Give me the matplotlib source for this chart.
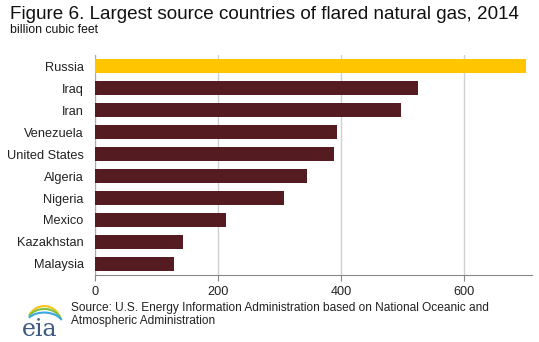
import matplotlib
matplotlib.use('Agg')

import numpy as np
import matplotlib.pyplot as plt
from matplotlib.patches import Arc

plt.rcParams['font.family'] = ['Liberation Sans', 'DejaVu Sans']

countries = ['Russia', 'Iraq', 'Iran', 'Venezuela', 'United States',
             'Algeria', 'Nigeria', 'Mexico', 'Kazakhstan', 'Malaysia']
flared = [700, 525, 497, 393, 388, 345, 307, 213, 143, 129]
ticks = [0, 200, 400, 600]

fig = plt.figure(figsize=(5.39, 3.42), dpi=100)
ax = fig.add_axes([0.1757, 0.196, 0.811, 0.643])

ypos = np.arange(len(countries))[::-1]
colors = ['#ffc600'] + ['#541b21'] * (len(countries) - 1)
ax.barh(ypos, flared, height=0.62, color=colors, zorder=3)

ax.set_xlim(0, 710)
ax.set_ylim(-0.5, len(countries) - 0.5)
ax.set_yticks(ypos)
ax.set_yticklabels(countries, fontsize=9.2, color='#222222')
ax.set_xticks(ticks)
ax.set_xticklabels([str(t) for t in ticks], fontsize=9.2, color='#222222')
ax.tick_params(axis='y', length=0, pad=8)
ax.tick_params(axis='x', length=4, color='#888888', pad=4)
ax.xaxis.grid(True, color='#d0d0d0', linewidth=1, zorder=0)

for s in ['top', 'right']:
    ax.spines[s].set_visible(False)
ax.spines['left'].set_color('#aaaaaa')
ax.spines['bottom'].set_color('#888888')

fig.text(0.019, 0.945, 'Figure 6. Largest source countries of flared natural gas, 2014',
         fontsize=13.6, color='#111111', va='baseline')
fig.text(0.019, 0.903, 'billion cubic feet', fontsize=8.8, color='#111111', va='baseline')

fig.text(0.131, 0.054, 'Source: U.S. Energy Information Administration based on National Oceanic and\n'
         'Atmospheric Administration', fontsize=8.6, color='#222222',
         va='baseline', linespacing=1.1)

# eia logo
fig.text(0.04, 0.018, 'eia', fontsize=17, family='DejaVu Serif', color='#3d5a80', va='baseline')
lax = fig.add_axes([0.03, 0.0, 0.1, 0.14])
lax.set_xlim(0, 1)
lax.set_ylim(0, 1)
lax.axis('off')
for w, h, c, cy in [(0.62, 0.7, '#f5c518', 0.40), (0.66, 0.62, '#7cc242', 0.38),
                    (0.72, 0.55, '#3ba7e0', 0.34)]:
    lax.add_patch(Arc((0.52, cy), w, h, theta1=20, theta2=150, color=c, linewidth=1.5))

plt.savefig('out.png', dpi=100)
